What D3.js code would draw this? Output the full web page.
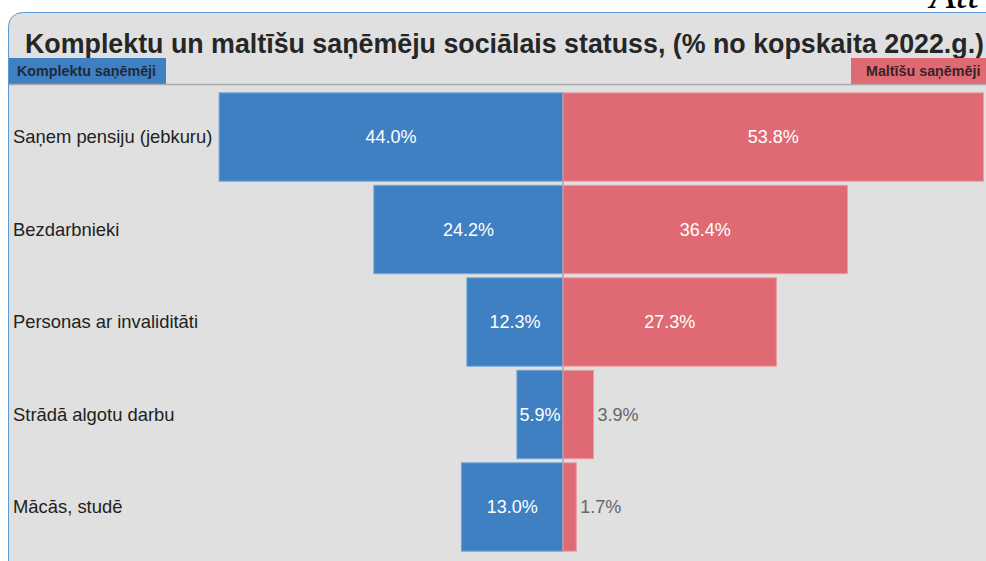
<!DOCTYPE html>
<html>
<head>
<meta charset="utf-8">
<script src="https://cdn.jsdelivr.net/npm/d3@7"></script>
<style>
  body { margin: 0; background: #fff; overflow: hidden; }
  svg { display: block; font-family: "Liberation Sans", Arial, sans-serif; }
</style>
</head>
<body>
<div id="chart"></div>
<script>
// data
const categories = ["Saņem pensiju (jebkuru)", "Bezdarbnieki", "Personas ar invaliditāti", "Strādā algotu darbu", "Mācās, studē"];
const komplekti = [44.0, 24.2, 12.3, 5.9, 13.0];
const maltites = [53.8, 36.4, 27.3, 3.9, 1.7];
const seriesNames = ["Komplektu saņēmēji", "Maltīšu saņēmēji"];
const title = "Komplektu un maltīšu saņēmēju sociālais statuss, (% no kopskaita 2022.g.)";

const width = 986, height = 561;
const centerX = 563;
const blue = "#3f80c3", red = "#e06a73";

const svg = d3.select("#chart").append("svg")
    .attr("width", width)
    .attr("height", height);

// cropped caption at the very top (cut off in the source too)
svg.append("text")
    .attr("x", 930).attr("y", 8)
    .attr("font-family", "Liberation Serif, Times New Roman, serif")
    .attr("font-style", "italic")
    .attr("font-size", 42)
    .attr("fill", "#000")
    .text("Att");

// panel
svg.append("rect")
    .attr("x", 8.5).attr("y", 12.5)
    .attr("width", 1020).attr("height", 600)
    .attr("rx", 14)
    .attr("fill", "#e0e0e0")
    .attr("stroke", "#5b9bd5");

svg.append("text")
    .attr("x", 25).attr("y", 53)
    .attr("font-size", 26.8)
    .attr("font-weight", "bold")
    .attr("fill", "#262626")
    .text(title);

// legend strips
svg.append("rect").attr("x", 9).attr("y", 58).attr("width", 157).attr("height", 26).attr("fill", blue);
svg.append("rect").attr("x", 851).attr("y", 58).attr("width", 140).attr("height", 26).attr("fill", red);
svg.append("text").attr("x", 17).attr("y", 76)
    .attr("font-size", 14.3).attr("font-weight", "bold").attr("fill", "#1e2a38")
    .text(seriesNames[0]);
svg.append("text").attr("x", 866).attr("y", 76)
    .attr("font-size", 14.3).attr("font-weight", "bold").attr("fill", "#3a2226")
    .text(seriesNames[1]);
svg.append("line")
    .attr("x1", 9).attr("x2", width)
    .attr("y1", 84.5).attr("y2", 84.5)
    .attr("stroke", "#a9a9a9").attr("stroke-width", 1.5);

// scales
const y = d3.scaleBand()
    .domain(categories)
    .range([91, 553])
    .paddingInner(0.045)
    .paddingOuter(0.02);

const w = d3.scaleLinear()
    .domain([0, 100])
    .range([0, 781.5]);

const rows = categories.map((c, i) => ({cat: c, left: komplekti[i], right: maltites[i]}));

// center axis
svg.append("line")
    .attr("x1", centerX).attr("x2", centerX)
    .attr("y1", y(categories[0])).attr("y2", y(categories[categories.length - 1]) + y.bandwidth())
    .attr("stroke", "#8a8a8a").attr("stroke-width", 1);

const g = svg.append("g");

g.selectAll(".bar-left")
    .data(rows)
  .enter().append("rect")
    .attr("class", "bar-left")
    .attr("x", d => centerX - w(d.left))
    .attr("y", d => y(d.cat))
    .attr("width", d => w(d.left))
    .attr("height", y.bandwidth())
    .attr("fill", blue)
    .attr("stroke", "#6fa3d6").attr("stroke-width", 1);

g.selectAll(".bar-right")
    .data(rows)
  .enter().append("rect")
    .attr("class", "bar-right")
    .attr("x", centerX)
    .attr("y", d => y(d.cat))
    .attr("width", d => w(d.right))
    .attr("height", y.bandwidth())
    .attr("fill", red)
    .attr("stroke", "#ec9aa0").attr("stroke-width", 1);

// category labels
g.selectAll(".cat")
    .data(rows)
  .enter().append("text")
    .attr("class", "cat")
    .attr("x", 13)
    .attr("y", d => y(d.cat) + y.bandwidth() / 2)
    .attr("dy", "0.35em")
    .attr("font-size", 18.4)
    .attr("fill", "#222")
    .text(d => d.cat);

const fmt = v => v.toFixed(1) + "%";
const minInside = 40;

g.selectAll(".val-left")
    .data(rows)
  .enter().append("text")
    .attr("class", "val-left")
    .attr("x", d => w(d.left) > minInside ? centerX - w(d.left) / 2 : centerX - w(d.left) - 4)
    .attr("y", d => y(d.cat) + y.bandwidth() / 2)
    .attr("dy", "0.35em")
    .attr("text-anchor", d => w(d.left) > minInside ? "middle" : "end")
    .attr("font-size", 18)
    .attr("fill", d => w(d.left) > minInside ? "#fff" : "#666")
    .text(d => fmt(d.left));

g.selectAll(".val-right")
    .data(rows)
  .enter().append("text")
    .attr("class", "val-right")
    .attr("x", d => w(d.right) > minInside ? centerX + w(d.right) / 2 : centerX + w(d.right) + 4)
    .attr("y", d => y(d.cat) + y.bandwidth() / 2)
    .attr("dy", "0.35em")
    .attr("text-anchor", d => w(d.right) > minInside ? "middle" : "start")
    .attr("font-size", 18)
    .attr("fill", d => w(d.right) > minInside ? "#fff" : "#666")
    .text(d => fmt(d.right));
</script>
</body>
</html>
